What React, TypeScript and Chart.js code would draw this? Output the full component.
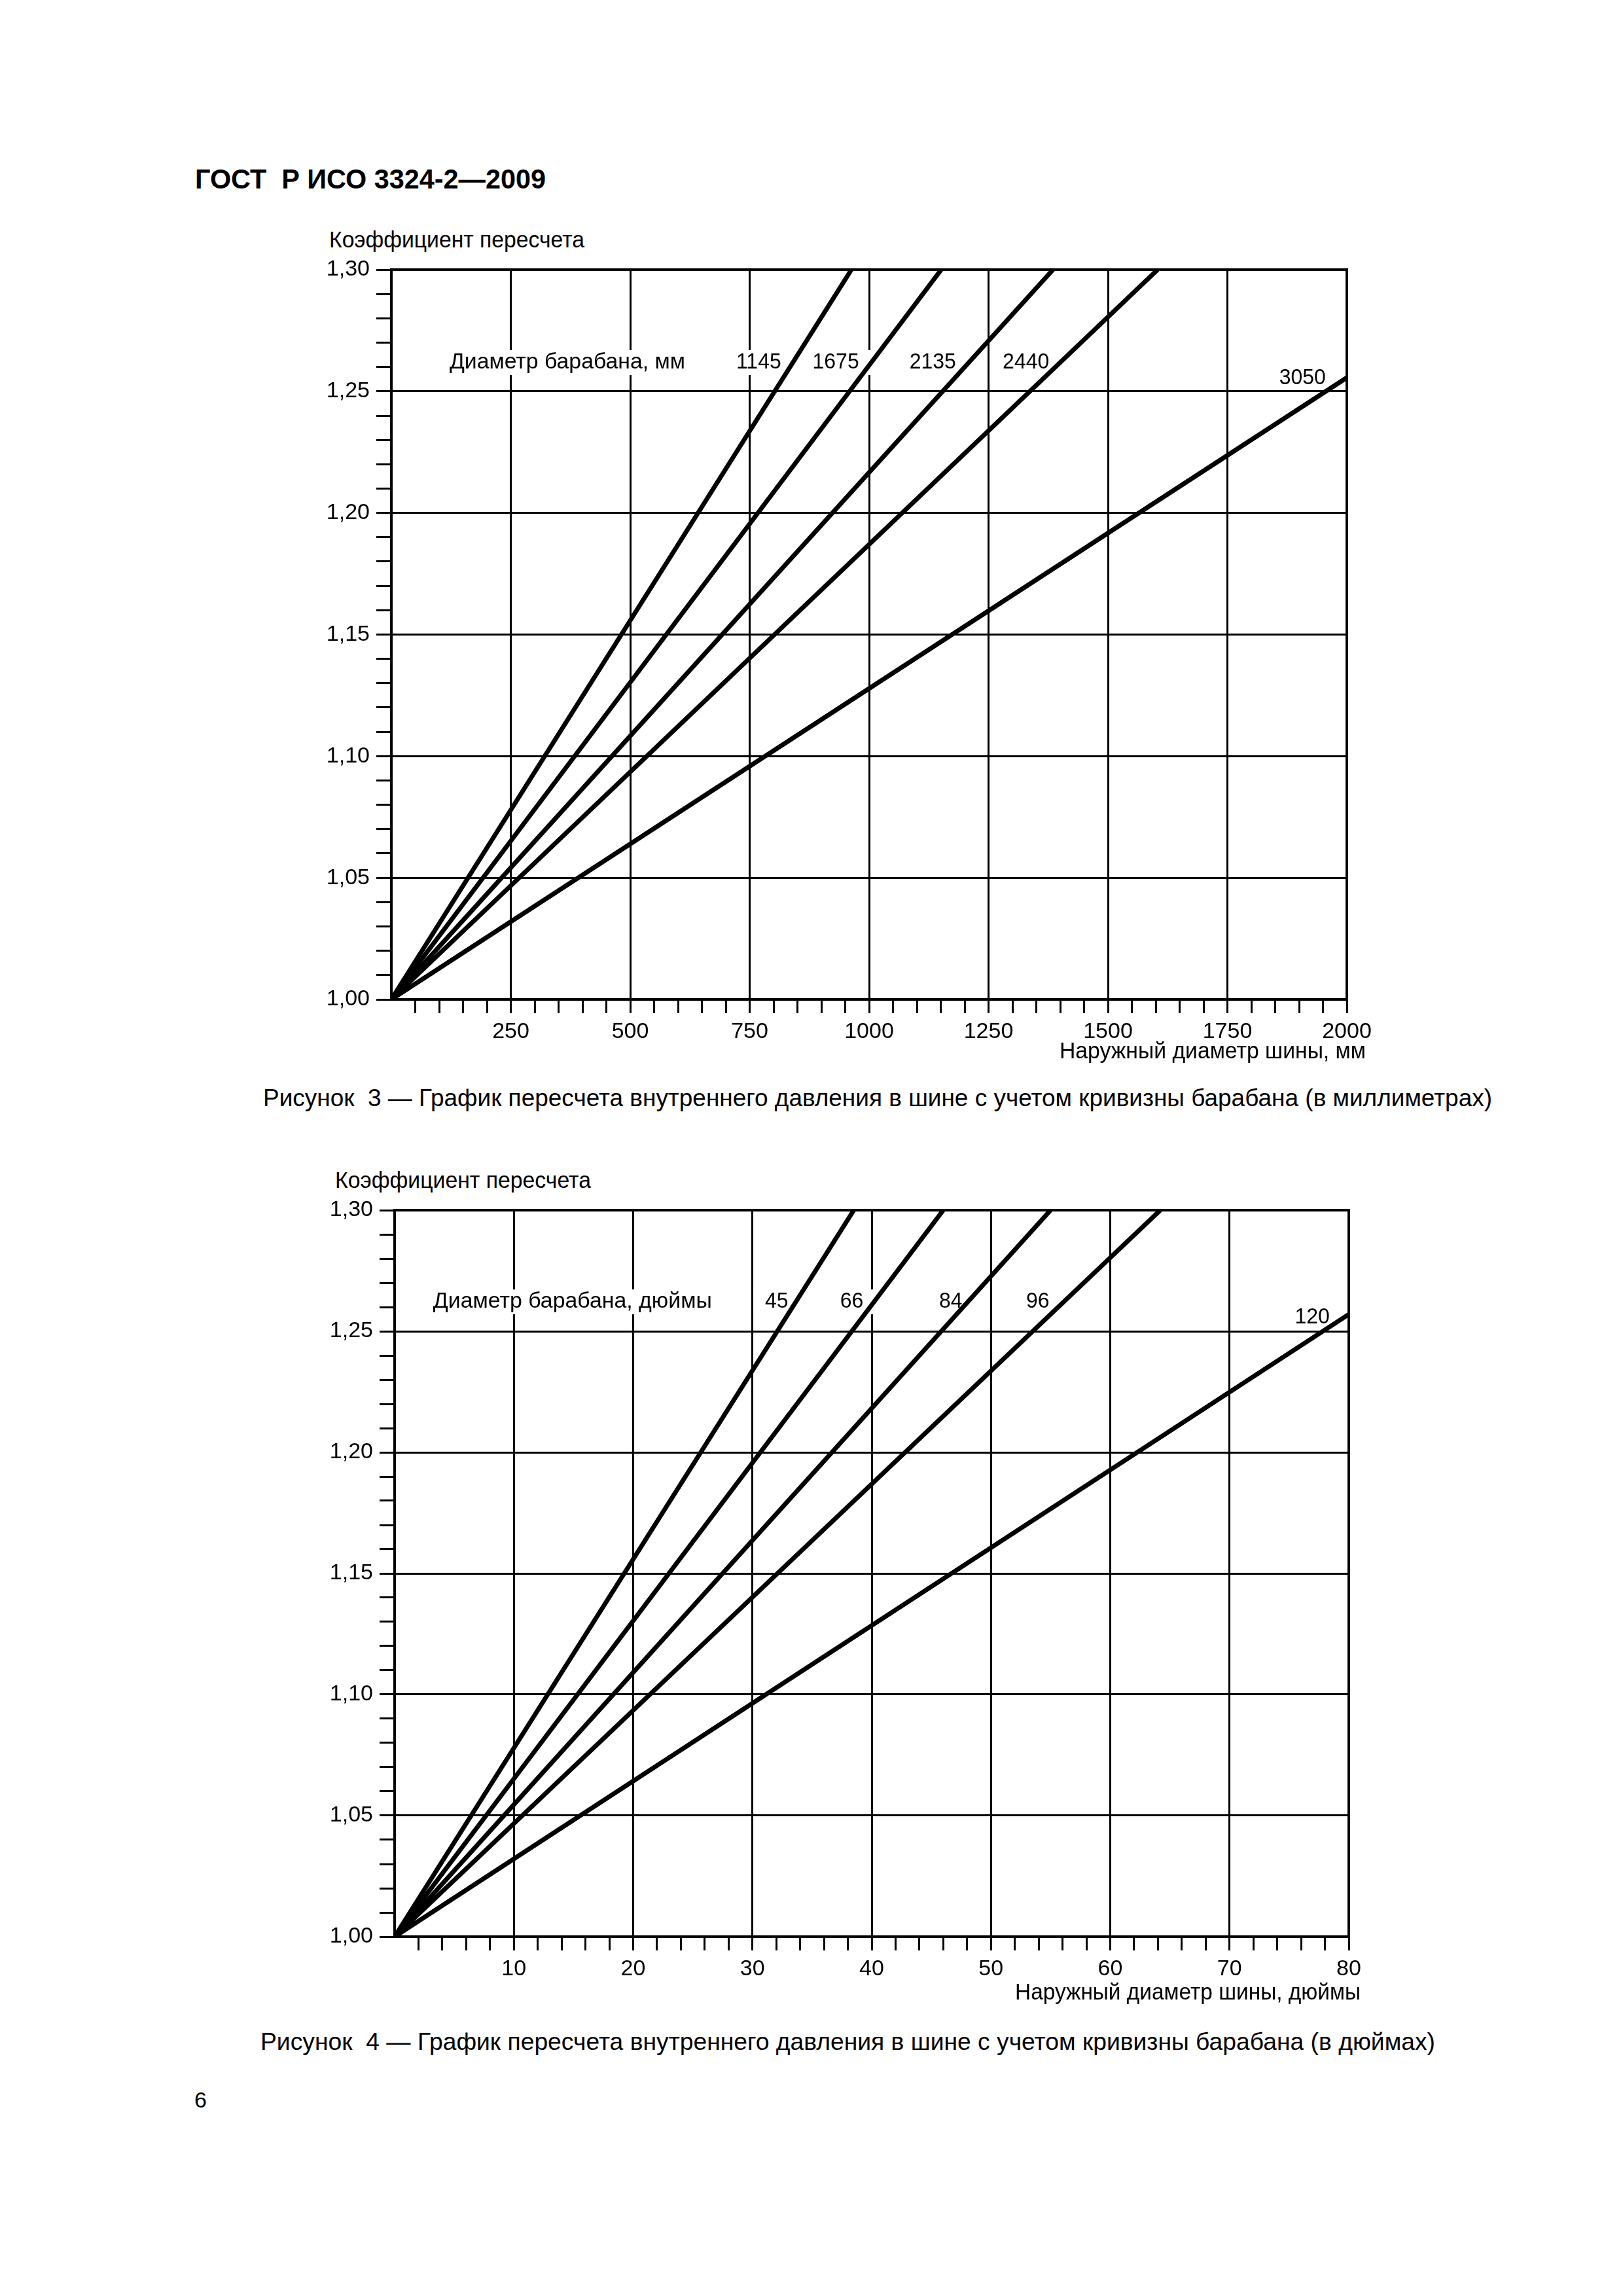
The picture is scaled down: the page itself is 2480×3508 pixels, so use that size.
import React, { useEffect, useLayoutEffect, useRef } from 'react';
import { Chart, registerables } from 'chart.js';

Chart.register(...registerables);

const FONT = '"Liberation Sans", Arial, Helvetica, sans-serif';

// ---------- data ----------
const drumLabelsMm = ['1145', '1675', '2135', '2440', '3050'];
const tireEndMm = [963, 1151, 1385, 1604, 2000];
const factorEndMm = [1.3, 1.3, 1.3, 1.3, 1.2556];

const drumLabelsIn = ['45', '66', '84', '96', '120'];
const tireEndIn = [38.5, 46.0, 55.0, 64.2, 80];
const factorEndIn = [1.3, 1.3, 1.3, 1.3, 1.257];

const originTire = 0;
const originFactor = 1.0;

const yMin = 1.0;
const yMax = 1.3;
const yMinorStep = 0.01;
const yMajorEvery = 5; // every 5th minor step -> 0.05

const xMaxMm = 2000;
const xMajorMm = 250;
const xMinorMm = 50;
const xMaxIn = 80;
const xMajorIn = 10;
const xMinorIn = 2;

const headerText = 'ГОСТ  Р ИСО 3324-2—2009';
const yTitle = 'Коэффициент пересчета';
const xTitleMm = 'Наружный диаметр шины, мм';
const xTitleIn = 'Наружный диаметр шины, дюймы';
const legendTitleMm = 'Диаметр барабана, мм';
const legendTitleIn = 'Диаметр барабана, дюймы';
const caption3 = 'Рисунок  3 — График пересчета внутреннего давления в шине с учетом кривизны барабана (в миллиметрах)';
const caption4 = 'Рисунок  4 — График пересчета внутреннего давления в шине с учетом кривизны барабана (в дюймах)';
const pageNumber = '6';

// ---------- label placement (layout, not data) ----------
const labelPlaceMm = { titleRight: 615, titleWidth: 360, rights: [816, 979, 1182, 1377, 1956], rowY: 1.2594, lastY: 1.2529 };
const labelPlaceIn = { titleRight: 26.6, titleWidth: 426, rights: [33.0, 39.3, 47.6, 54.9, 78.4], rowY: 1.2597, lastY: 1.2532 };

const AX_W = 198;
const PAD_T = 32;
const PAD_R = 102;
const AX_H = 113;

type Area = { left: number; top: number; w: number; h: number };

function FitText(props: { text: string; left: number; baseline: number; width?: number; size: number; bold?: boolean }) {
  const { text, left, baseline, width, size, bold } = props;
  const ref = useRef<HTMLDivElement>(null);
  useLayoutEffect(() => {
    const el = ref.current;
    if (!el) return;
    el.style.transform = 'none';
    const w = el.getBoundingClientRect().width;
    if (width && w > 0) el.style.transform = `scaleX(${width / w})`;
  }, [text, width, size]);
  return (
    <div
      ref={ref}
      style={{
        position: 'absolute',
        left,
        top: baseline - 0.8465 * size,
        fontFamily: FONT,
        fontSize: size,
        lineHeight: `${size}px`,
        fontWeight: bold ? 700 : 400,
        whiteSpace: 'pre',
        transformOrigin: '0 0',
        color: '#000',
      }}
    >
      {text}
    </div>
  );
}

function DrumChart(props: {
  area: Area;
  xMax: number;
  xMajor: number;
  xMinor: number;
  names: string[];
  endX: number[];
  endY: number[];
  legendTitle: string;
  place: { titleRight: number; titleWidth: number; rights: number[]; rowY: number; lastY: number };
}) {
  const { area, xMax, xMajor, xMinor, names, endX, endY, legendTitle, place } = props;
  const ref = useRef<HTMLCanvasElement>(null);
  const cw = AX_W + area.w + PAD_R;
  const ch = PAD_T + area.h + AX_H;

  useEffect(() => {
    if (!ref.current) return;
    const datasets = names.map((n, i) => ({
      label: n,
      data: [
        { x: originTire, y: originFactor },
        { x: endX[i], y: endY[i] },
      ],
      showLine: true,
      borderColor: '#000',
      backgroundColor: '#000',
      borderWidth: 7,
      pointRadius: 0,
      fill: false,
      tension: 0,
    }));

    const items = [
      { text: legendTitle, x: place.titleRight, y: place.rowY, bg: true, w: place.titleWidth },
      ...names.map((n, i) => ({
        text: n,
        x: place.rights[i],
        y: i === names.length - 1 ? place.lastY : place.rowY,
        bg: i !== names.length - 1,
        w: 0,
      })),
    ];

    const labelPlugin = {
      id: 'drumLabels',
      beforeDatasetsDraw(chart: any) {
        const { ctx, scales } = chart;
        const xs = scales.x;
        const ys = scales.y;
        ctx.save();
        ctx.font = `34px ${FONT}`;
        ctx.textAlign = 'right';
        ctx.textBaseline = 'alphabetic';
        items.forEach((it) => {
          const px = xs.getPixelForValue(it.x);
          const py = ys.getPixelForValue(it.y);
          const natural = ctx.measureText(it.text).width;
          const w = it.w || natural * 0.94;
          if (it.bg) {
            ctx.fillStyle = '#fff';
            ctx.fillRect(px - w - 18, py - 28, w + 36, 38);
          }
          ctx.fillStyle = '#000';
          ctx.save();
          ctx.translate(px, py);
          ctx.scale(w / natural, 1);
          ctx.fillText(it.text, 0, 0);
          ctx.restore();
        });
        ctx.restore();
      },
      afterDraw(chart: any) {
        const { ctx, chartArea } = chart;
        ctx.save();
        ctx.strokeStyle = '#000';
        ctx.lineWidth = 4;
        ctx.beginPath();
        ctx.moveTo(chartArea.left - 2, chartArea.top);
        ctx.lineTo(chartArea.right, chartArea.top);
        ctx.lineTo(chartArea.right, chartArea.bottom);
        ctx.stroke();
        ctx.restore();
      },
    };

    const isMajorY = (v: number) => Math.round(v / yMinorStep) % yMajorEvery === 0;
    const isMajorX = (v: number) => Math.round(v) % xMajor === 0;

    const chart = new Chart(ref.current, {
      type: 'scatter',
      data: { datasets },
      options: {
        responsive: false,
        animation: false,
        devicePixelRatio: 1,
        events: [],
        layout: { padding: { top: PAD_T, right: PAD_R, left: 0, bottom: 0 } },
        plugins: { legend: { display: false }, tooltip: { enabled: false } },
        scales: {
          x: {
            type: 'linear',
            min: 0,
            max: xMax,
            afterFit: (s: any) => {
              s.height = AX_H;
            },
            border: { display: true, color: '#000', width: 4 },
            grid: {
              color: (c: any) => (c.tick && isMajorX(c.tick.value) ? '#000' : 'rgba(0,0,0,0)'),
              lineWidth: 3,
              tickColor: (c: any) => (c.tick && c.tick.value === 0 ? 'rgba(0,0,0,0)' : '#000'),
              tickWidth: 3,
              tickLength: 21,
              drawTicks: true,
              drawOnChartArea: true,
            },
            ticks: {
              stepSize: xMinor,
              autoSkip: false,
              maxRotation: 0,
              minRotation: 0,
              padding: 8,
              color: '#000',
              font: { family: FONT, size: 34 },
              callback: (v: any) => (Number(v) % xMajor === 0 && Number(v) !== 0 ? String(v) : ''),
            },
          },
          y: {
            type: 'linear',
            min: yMin,
            max: yMax,
            afterFit: (s: any) => {
              s.width = AX_W;
            },
            border: { display: true, color: '#000', width: 4 },
            grid: {
              color: (c: any) => (c.tick && isMajorY(c.tick.value) ? '#000' : 'rgba(0,0,0,0)'),
              lineWidth: 3,
              tickColor: '#000',
              tickWidth: 3,
              tickLength: 23,
              drawTicks: true,
              drawOnChartArea: true,
            },
            ticks: {
              stepSize: yMinorStep,
              autoSkip: false,
              padding: 10,
              color: '#000',
              font: { family: FONT, size: 34 },
              callback: (v: any) =>
                isMajorY(Number(v)) ? Number(v).toFixed(2).replace('.', ',') : '',
            },
          },
        },
      },
      plugins: [labelPlugin],
    } as any);
    return () => chart.destroy();
  }, []);

  return (
    <canvas
      ref={ref}
      width={cw}
      height={ch}
      style={{ position: 'absolute', left: area.left - AX_W, top: area.top - PAD_T, width: cw, height: ch }}
    />
  );
}

export default function App() {
  useEffect(() => {
    document.body.style.margin = '0';
  }, []);
  const area1: Area = { left: 598, top: 412, w: 1460, h: 1115 };
  const area2: Area = { left: 603, top: 1849, w: 1458, h: 1110 };
  return (
    <div style={{ position: 'absolute', left: 0, top: 0, width: 2480, height: 3508, background: '#fff', overflow: 'hidden' }}>
      <FitText text={headerText} left={298} baseline={289} width={536} size={42} bold />

      <FitText text={yTitle} left={503} baseline={378} width={390} size={35} />
      <DrumChart
        area={area1}
        xMax={xMaxMm}
        xMajor={xMajorMm}
        xMinor={xMinorMm}
        names={drumLabelsMm}
        endX={tireEndMm}
        endY={factorEndMm}
        legendTitle={legendTitleMm}
        place={labelPlaceMm}
      />
      <FitText text={xTitleMm} left={1619} baseline={1617} width={468} size={35} />
      <FitText text={caption3} left={402} baseline={1690} width={1878} size={37} />

      <FitText text={yTitle} left={512} baseline={1815} width={391} size={35} />
      <DrumChart
        area={area2}
        xMax={xMaxIn}
        xMajor={xMajorIn}
        xMinor={xMinorIn}
        names={drumLabelsIn}
        endX={tireEndIn}
        endY={factorEndIn}
        legendTitle={legendTitleIn}
        place={labelPlaceIn}
      />
      <FitText text={xTitleIn} left={1551} baseline={3055} width={528} size={35} />
      <FitText text={caption4} left={398} baseline={3132} width={1795} size={37} />

      <FitText text={pageNumber} left={297} baseline={3220} size={34} />
    </div>
  );
}
